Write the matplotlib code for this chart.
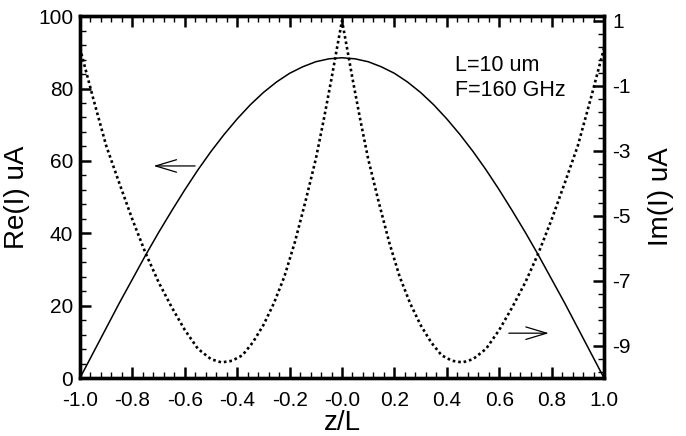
import matplotlib
matplotlib.use("Agg")
import matplotlib.pyplot as plt
from matplotlib.ticker import MultipleLocator, FixedLocator, FixedFormatter

plt.rcParams["font.family"] = ["Liberation Sans", "DejaVu Sans"]
plt.rcParams["axes.unicode_minus"] = False

# Re(I)
z_re = [-1.00, -0.95, -0.90, -0.85, -0.80, -0.75, -0.70, -0.65, -0.60, -0.55,
        -0.50, -0.45, -0.40, -0.35, -0.30, -0.25, -0.20, -0.15, -0.10, -0.05,
        0.00, 0.05, 0.10, 0.15, 0.20, 0.25, 0.30, 0.35, 0.40, 0.45,
        0.50, 0.55, 0.60, 0.65, 0.70, 0.75, 0.80, 0.85, 0.90, 0.95, 1.00]
re_vals = [0.0, 6.9, 13.8, 20.7, 27.3, 33.9, 40.2, 46.2, 52.0, 57.5,
           62.6, 67.3, 71.6, 75.5, 78.9, 81.8, 84.2, 86.0, 87.4, 88.2,
           88.5, 88.2, 87.4, 86.0, 84.2, 81.8, 78.9, 75.5, 71.6, 67.3,
           62.6, 57.5, 52.0, 46.2, 40.2, 33.9, 27.3, 20.7, 13.8, 6.9, 0.0]

# Im(I)
z_im = [-1.00, -0.95, -0.90, -0.85, -0.80, -0.75, -0.70, -0.65, -0.60, -0.55,
        -0.50, -0.46, -0.42, -0.38, -0.34, -0.30, -0.26, -0.22, -0.18, -0.14,
        -0.10, -0.07, -0.04, -0.02, 0.00,
        0.02, 0.04, 0.07, 0.10, 0.14, 0.18, 0.22, 0.26, 0.30, 0.34,
        0.38, 0.42, 0.46, 0.50, 0.55, 0.60, 0.65, 0.70, 0.75, 0.80,
        0.85, 0.90, 0.95, 1.00]
im_vals = [0.15, -1.38, -2.85, -4.00, -5.12, -6.15, -7.05, -7.82, -8.52, -9.10,
           -9.42, -9.52, -9.47, -9.30, -8.90, -8.37, -7.70, -6.88, -5.82, -4.58,
           -3.26, -2.06, -0.78, 0.12, 1.00,
           0.12, -0.78, -2.06, -3.26, -4.58, -5.82, -6.88, -7.70, -8.37, -8.90,
           -9.30, -9.47, -9.52, -9.42, -9.10, -8.52, -7.82, -7.05, -6.15, -5.12,
           -4.00, -2.85, -1.38, 0.15]

x_ticks = [-1.0, -0.8, -0.6, -0.4, -0.2, 0.0, 0.2, 0.4, 0.6, 0.8, 1.0]
x_tick_labels = ["-1.0", "-0.8", "-0.6", "-0.4", "-0.2", "-0.0",
                 "0.2", "0.4", "0.6", "0.8", "1.0"]
im_ticks = [1, -1, -3, -5, -7, -9]

fig = plt.figure(figsize=(6.86, 4.36), dpi=100)
ax = fig.add_axes([0.1166, 0.133, 0.7639, 0.830])
ax2 = ax.twinx()

ax.plot(z_re, re_vals, color="black", lw=1.1)
ax2.plot(z_im, im_vals, color="black", lw=1.9, linestyle=(0, (1, 1.1)))

ax.set_xlim(-1, 1)
ax.set_ylim(0, 100)
ax2.set_ylim(-10, 1.14)

ax.xaxis.set_major_locator(FixedLocator(x_ticks))
ax.xaxis.set_major_formatter(FixedFormatter(x_tick_labels))
ax.xaxis.set_minor_locator(MultipleLocator(0.04))
ax.yaxis.set_major_locator(MultipleLocator(20))
ax.yaxis.set_minor_locator(MultipleLocator(4))
ax2.yaxis.set_major_locator(FixedLocator(im_ticks))
ax2.yaxis.set_minor_locator(MultipleLocator(0.4, offset=0.2))

ax.tick_params(axis="x", which="both", direction="in", top=True, bottom=True)
ax.tick_params(axis="y", which="both", direction="in", left=True, right=False)
ax.tick_params(which="major", length=8, width=1.8, labelsize=15)
ax.tick_params(which="minor", length=4, width=1.0)
ax.tick_params(axis="x", pad=9)
ax.tick_params(axis="y", pad=5)
ax2.tick_params(which="both", direction="in", right=True)
ax2.tick_params(which="major", length=8, width=1.8, labelsize=15, pad=6)
ax2.tick_params(which="minor", length=4, width=1.0)

for a in (ax, ax2):
    for s in a.spines.values():
        s.set_linewidth(2.4)

ax.set_xlabel("z/L", fontsize=20, labelpad=0)
ax.set_ylabel("Re(I) uA", fontsize=20, labelpad=6)
ax2.set_ylabel("Im(I) uA", fontsize=20, labelpad=12)

ax.text(0.43, 83, "L=10 um\nF=160 GHz", fontsize=15.5, linespacing=1.25,
        va="center", ha="left")

arrow = dict(arrowstyle="->,head_length=1.5,head_width=0.45", color="black", lw=0.9)
ax.annotate("", xy=(-0.73, 58.6), xytext=(-0.55, 58.6), arrowprops=arrow)
ax2.annotate("", xy=(0.80, -8.62), xytext=(0.626, -8.62), arrowprops=arrow)

fig.savefig("out.png", dpi=100)
